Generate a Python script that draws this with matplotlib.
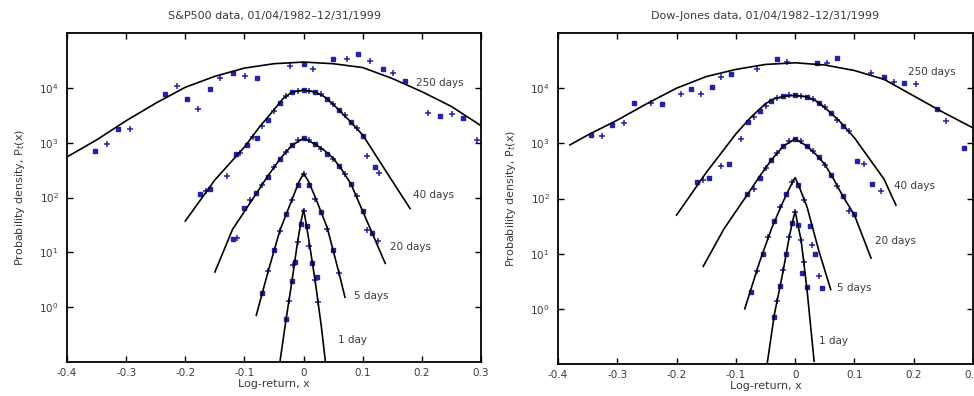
import numpy as np
import matplotlib.pyplot as plt

# values as (log-return x, log10 P(x)), curves are shifted by decades
# S&P500 model curves
sp_curve_1d = [(-0.04, -1.0), (-0.03, -0.25), (-0.02, 0.45), (-0.01, 1.20), (-0.004, 1.58), (0.0, 1.78),
               (0.004, 1.55), (0.01, 1.15), (0.02, 0.45), (0.03, -0.35), (0.037, -1.0)]
sp_curve_5d = [(-0.08, -0.15), (-0.06, 0.65), (-0.04, 1.40), (-0.02, 1.95), (-0.008, 2.28), (0.0, 2.44),
               (0.008, 2.30), (0.02, 2.00), (0.04, 1.45), (0.06, 0.62), (0.07, 0.18)]
sp_curve_20d = [(-0.15, 0.64), (-0.12, 1.42), (-0.08, 2.07), (-0.06, 2.40), (-0.04, 2.70), (-0.02, 2.95),
                (0.0, 3.08), (0.02, 2.97), (0.035, 2.86), (0.05, 2.72), (0.065, 2.50), (0.08, 2.25),
                (0.11, 1.50), (0.138, 0.80)]
sp_curve_40d = [(-0.2, 1.57), (-0.15, 2.32), (-0.1, 2.92), (-0.075, 3.28), (-0.05, 3.60), (-0.035, 3.80),
                (-0.02, 3.92), (0.0, 3.96), (0.02, 3.92), (0.035, 3.84), (0.05, 3.70), (0.075, 3.43),
                (0.1, 3.14), (0.15, 2.30), (0.18, 1.80)]
sp_curve_250d = [(-0.4, 2.74), (-0.35, 3.05), (-0.3, 3.40), (-0.25, 3.72), (-0.2, 4.01), (-0.15, 4.21),
                 (-0.1, 4.36), (-0.05, 4.44), (0.0, 4.47), (0.05, 4.44), (0.1, 4.37), (0.15, 4.17),
                 (0.2, 3.93), (0.25, 3.66), (0.3, 3.31)]

# S&P500 data points
sp_pts_1d = [(-0.03, -0.22), (-0.025, 0.12), (-0.02, 0.48), (-0.018, 0.76), (-0.015, 0.82), (-0.01, 1.18),
             (-0.005, 1.52), (0.0, 1.76), (0.005, 1.48), (0.01, 1.12), (0.015, 0.80), (0.02, 0.50),
             (0.022, 0.55), (0.025, 0.10)]
sp_pts_5d = [(-0.07, 0.25), (-0.06, 0.66), (-0.05, 1.05), (-0.04, 1.38), (-0.03, 1.70), (-0.02, 1.96),
             (-0.01, 2.22), (0.0, 2.42), (0.01, 2.22), (0.02, 1.98), (0.03, 1.74), (0.04, 1.42),
             (0.05, 1.05), (0.06, 0.62)]
sp_pts_20d = [(-0.12, 1.25), (-0.113, 1.27), (-0.1, 1.80), (-0.09, 1.95), (-0.08, 2.09), (-0.07, 2.22),
              (-0.06, 2.38), (-0.05, 2.55), (-0.04, 2.70), (-0.03, 2.83), (-0.02, 2.95), (-0.01, 3.04),
              (0.0, 3.08), (0.01, 3.04), (0.02, 2.97), (0.03, 2.88), (0.04, 2.80), (0.05, 2.70),
              (0.06, 2.57), (0.07, 2.42), (0.08, 2.25), (0.09, 2.02), (0.1, 1.75), (0.107, 1.40),
              (0.115, 1.35), (0.126, 1.20)]
sp_pts_40d = [(-0.175, 2.07), (-0.165, 2.12), (-0.158, 2.16), (-0.13, 2.40), (-0.115, 2.80), (-0.107, 2.82),
              (-0.095, 2.95), (-0.085, 3.10), (-0.079, 3.09), (-0.07, 3.30), (-0.06, 3.42), (-0.05, 3.58),
              (-0.04, 3.72), (-0.03, 3.85), (-0.02, 3.92), (-0.01, 3.95), (0.0, 3.96), (0.01, 3.95),
              (0.02, 3.93), (0.03, 3.88), (0.04, 3.80), (0.05, 3.70), (0.06, 3.60), (0.07, 3.50),
              (0.08, 3.38), (0.09, 3.26), (0.1, 3.12), (0.107, 2.75), (0.12, 2.55), (0.128, 2.45)]
sp_pts_250d = [(-0.353, 2.84), (-0.333, 2.98), (-0.314, 3.25), (-0.294, 3.25), (-0.234, 3.89), (-0.214, 4.04),
               (-0.197, 3.80), (-0.178, 3.62), (-0.158, 3.98), (-0.141, 4.18), (-0.119, 4.27), (-0.099, 4.22),
               (-0.079, 4.18), (-0.023, 4.40), (0.0, 4.44), (0.016, 4.35), (0.05, 4.53), (0.073, 4.53),
               (0.092, 4.62), (0.112, 4.49), (0.134, 4.35), (0.151, 4.27), (0.171, 4.13), (0.211, 3.55),
               (0.231, 3.49), (0.251, 3.53), (0.27, 3.45), (0.293, 3.04)]

# Dow-Jones model curves
dj_curve_1d = [(-0.047, -0.98), (-0.035, -0.10), (-0.02, 0.70), (-0.01, 1.30), (-0.004, 1.60), (0.0, 1.77),
               (0.004, 1.55), (0.01, 1.25), (0.02, 0.35), (0.032, -0.95)]
dj_curve_5d = [(-0.085, 0.0), (-0.06, 0.85), (-0.04, 1.45), (-0.02, 1.95), (-0.008, 2.22), (0.0, 2.38),
               (0.008, 2.18), (0.02, 1.85), (0.04, 1.05), (0.06, 0.35)]
dj_curve_20d = [(-0.155, 0.77), (-0.12, 1.45), (-0.08, 2.08), (-0.06, 2.40), (-0.04, 2.70), (-0.02, 2.95),
                (0.0, 3.08), (0.02, 2.95), (0.035, 2.80), (0.05, 2.62), (0.065, 2.35), (0.08, 2.05),
                (0.1, 1.70), (0.128, 0.92)]
dj_curve_40d = [(-0.2, 1.70), (-0.15, 2.47), (-0.1, 3.17), (-0.075, 3.47), (-0.05, 3.72), (-0.035, 3.81),
                (-0.02, 3.85), (0.0, 3.87), (0.02, 3.84), (0.035, 3.77), (0.05, 3.65), (0.075, 3.40),
                (0.1, 3.10), (0.15, 2.35), (0.17, 1.88)]
dj_curve_250d = [(-0.38, 2.97), (-0.35, 3.15), (-0.3, 3.42), (-0.25, 3.72), (-0.2, 4.00), (-0.15, 4.21),
                 (-0.1, 4.34), (-0.05, 4.43), (0.0, 4.46), (0.05, 4.42), (0.1, 4.32), (0.15, 4.16),
                 (0.2, 3.86), (0.25, 3.56), (0.3, 3.28)]

# Dow-Jones data points
dj_pts_1d = [(-0.035, -0.15), (-0.03, 0.15), (-0.025, 0.42), (-0.02, 0.70), (-0.015, 1.00), (-0.01, 1.30),
             (-0.005, 1.55), (0.0, 1.75), (0.005, 1.52), (0.01, 1.25), (0.012, 0.65), (0.015, 0.85),
             (0.02, 0.40)]
dj_pts_5d = [(-0.075, 0.30), (-0.065, 0.68), (-0.055, 1.00), (-0.045, 1.30), (-0.035, 1.60), (-0.025, 1.85),
             (-0.015, 2.08), (-0.005, 2.30), (0.005, 2.25), (0.015, 1.98), (0.025, 1.50), (0.029, 1.15),
             (0.034, 1.00), (0.04, 0.60), (0.046, 0.38)]
dj_pts_20d = [(-0.081, 2.08), (-0.07, 2.18), (-0.06, 2.38), (-0.05, 2.55), (-0.04, 2.70), (-0.03, 2.83),
              (-0.02, 2.95), (-0.01, 3.04), (0.0, 3.08), (0.01, 3.04), (0.02, 2.95), (0.03, 2.86),
              (0.04, 2.75), (0.05, 2.60), (0.06, 2.42), (0.07, 2.22), (0.08, 2.05), (0.091, 1.77),
              (0.1, 1.72)]
dj_pts_40d = [(-0.165, 2.30), (-0.155, 2.33), (-0.145, 2.37), (-0.125, 2.59), (-0.111, 2.62), (-0.091, 3.07),
              (-0.08, 3.38), (-0.07, 3.48), (-0.06, 3.58), (-0.05, 3.68), (-0.04, 3.76), (-0.03, 3.82),
              (-0.02, 3.85), (-0.01, 3.87), (0.0, 3.87), (0.01, 3.86), (0.02, 3.84), (0.03, 3.80),
              (0.04, 3.73), (0.05, 3.65), (0.06, 3.55), (0.07, 3.42), (0.08, 3.32), (0.09, 3.22),
              (0.104, 2.68), (0.116, 2.62), (0.13, 2.26), (0.145, 2.13)]
dj_pts_250d = [(-0.344, 3.16), (-0.326, 3.13), (-0.309, 3.34), (-0.289, 3.36), (-0.272, 3.73), (-0.243, 3.73),
               (-0.225, 3.71), (-0.192, 3.89), (-0.175, 3.98), (-0.158, 3.89), (-0.141, 4.03), (-0.125, 4.21),
               (-0.108, 4.25), (-0.064, 4.34), (-0.031, 4.52), (-0.013, 4.48), (0.037, 4.45), (0.054, 4.45),
               (0.071, 4.54), (0.128, 4.27), (0.15, 4.21), (0.167, 4.12), (0.184, 4.09), (0.204, 4.07),
               (0.239, 3.62), (0.254, 3.40), (0.285, 2.91)]

lag_names = ["1 day", "5 days", "20 days", "40 days", "250 days"]
sp_label_pos = [(0.058, -0.6), (0.085, 0.2), (0.146, 1.09), (0.185, 2.04), (0.19, 4.09)]
dj_label_pos = [(0.04, -0.58), (0.071, 0.38), (0.134, 1.23), (0.167, 2.22), (0.19, 4.30)]

xticks = [-0.4, -0.3, -0.2, -0.1, 0, 0.1, 0.2, 0.3]
xticklabels = ["-0.4", "-0.3", "-0.2", "-0.1", "0", "0.1", "0.2", "0.3"]

panels = [
    ("S&P500 data, 01/04/1982\u201312/31/1999",
     [sp_curve_1d, sp_curve_5d, sp_curve_20d, sp_curve_40d, sp_curve_250d],
     [sp_pts_1d, sp_pts_5d, sp_pts_20d, sp_pts_40d, sp_pts_250d], sp_label_pos,
     [67 / 974, 34 / 396, 414 / 974, 329 / 396]),
    ("Dow-Jones data, 01/04/1982\u201312/31/1999",
     [dj_curve_1d, dj_curve_5d, dj_curve_20d, dj_curve_40d, dj_curve_250d],
     [dj_pts_1d, dj_pts_5d, dj_pts_20d, dj_pts_40d, dj_pts_250d], dj_label_pos,
     [558 / 974, 32 / 396, 415 / 974, 331 / 396]),
]

plt.rcParams["font.family"] = "DejaVu Sans"
plt.rcParams["font.size"] = 8
txt = "#3a3a3a"
blue = "#2323a6"

fig = plt.figure(figsize=(9.74, 3.96), dpi=100)

for title, curves, points, label_pos, rect in panels:
    ax = fig.add_axes(rect)
    for c in curves:
        c = np.array(c)
        ax.plot(c[:, 0], 10 ** c[:, 1], color="black", lw=1.2, zorder=3)
    for p in points:
        p = np.array(p)
        ax.plot(p[::2, 0], 10 ** p[::2, 1], ls="none", marker="s", ms=2.3, color=blue, zorder=2)
        ax.plot(p[1::2, 0], 10 ** p[1::2, 1], ls="none", marker="+", ms=4, mew=1.1, color=blue, zorder=2)
    for name, (lx, ly) in zip(lag_names, label_pos):
        ax.text(lx, 10 ** ly, name, ha="left", va="center", color=txt, fontsize=7.5)

    ax.set_yscale("log")
    ax.set_xlim(-0.4, 0.3)
    ax.set_ylim(0.1, 1e5)
    ax.set_yticks([1, 10, 100, 1000, 10000])
    ax.minorticks_off()
    ax.set_xticks(xticks)
    ax.set_xticklabels(xticklabels)
    ax.tick_params(direction="in", top=True, right=True, length=4, width=1, colors="black",
                   labelcolor=txt, labelsize=7.5)
    ax.tick_params(axis="x", pad=4)
    ax.tick_params(axis="y", pad=6)
    for s in ax.spines.values():
        s.set_linewidth(1.3)
    ax.set_title(title, fontsize=8, color=txt, pad=10)
    ax.set_xlabel("Log-return, x", color=txt, labelpad=1)
    ax.set_ylabel("Probability density, P$_t$(x)", color=txt, labelpad=9)

fig.savefig("out.png", dpi=100)
